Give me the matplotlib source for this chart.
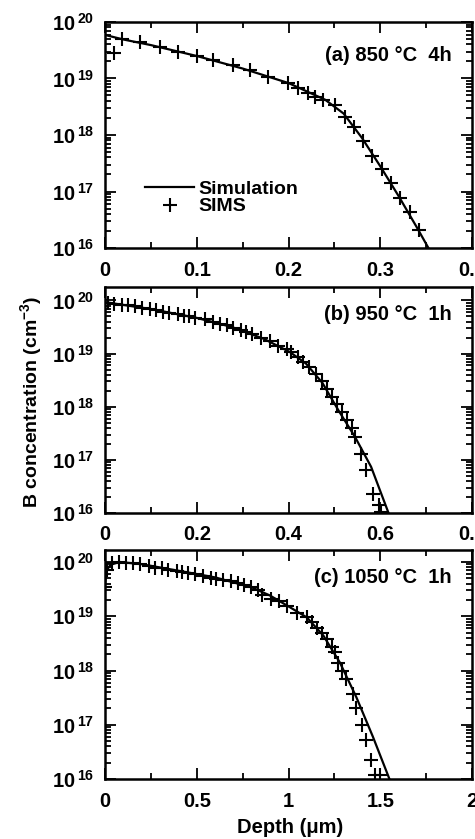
import matplotlib
matplotlib.use('Agg')
import matplotlib.pyplot as plt
from matplotlib.ticker import MultipleLocator, LogLocator, NullFormatter
from matplotlib.lines import Line2D

plt.rcParams['font.family'] = ['Liberation Sans', 'DejaVu Sans']
plt.rcParams['font.weight'] = 'bold'
plt.rcParams['mathtext.fontset'] = 'custom'
plt.rcParams['mathtext.rm'] = 'Liberation Sans:bold'
plt.rcParams['mathtext.bf'] = 'Liberation Sans:bold'

# (a) 850 C 4h
sims_a_x = [0.010, 0.019, 0.038, 0.060, 0.080, 0.100, 0.118, 0.139, 0.158, 0.178,
            0.199, 0.210, 0.221, 0.229, 0.238, 0.251, 0.262, 0.271, 0.281, 0.291,
            0.302, 0.312, 0.322, 0.332, 0.342]
sims_a_c = [2.8e19, 4.9e19, 4.5e19, 3.6e19, 3.0e19, 2.5e19, 2.1e19, 1.7e19, 1.4e19, 1.05e19,
            8.3e18, 6.8e18, 5.5e18, 4.7e18, 4.2e18, 3.4e18, 2.1e18, 1.4e18, 7.9e17, 4.3e17,
            2.5e17, 1.4e17, 7.6e16, 4.3e16, 2.1e16]
sim_a_x = [0, 0.02, 0.05, 0.10, 0.15, 0.20, 0.24, 0.26, 0.28, 0.30, 0.32, 0.34, 0.3525]
sim_a_c = [5.9e19, 4.9e19, 3.9e19, 2.5e19, 1.5e19, 8.3e18, 4.2e18, 2.4e18, 8.9e17,
           2.8e17, 8.3e16, 2.3e16, 1.0e16]

# (b) 950 C 1h
sims_b_x = [0.006, 0.020, 0.036, 0.050, 0.065, 0.080, 0.098, 0.112, 0.126, 0.140,
            0.160, 0.172, 0.183, 0.197, 0.218, 0.236, 0.250, 0.265, 0.279, 0.297,
            0.307, 0.321, 0.339, 0.360, 0.378, 0.396, 0.406, 0.421, 0.431, 0.445,
            0.460, 0.474, 0.484, 0.495, 0.506, 0.516, 0.527, 0.538, 0.545, 0.557,
            0.570, 0.584, 0.598, 0.601]
sims_b_c = [9.1e19, 8.7e19, 8.3e19, 8.1e19, 7.8e19, 7.2e19, 6.9e19, 6.6e19, 6.2e19, 5.9e19,
            5.5e19, 5.2e19, 5.0e19, 4.7e19, 4.4e19, 3.9e19, 3.6e19, 3.4e19, 3.1e19, 2.8e19,
            2.6e19, 2.3e19, 2.0e19, 1.7e19, 1.4e19, 1.2e19, 1.07e19, 8.7e18, 6.9e18, 5.6e18,
            4.2e18, 3.0e18, 2.2e18, 1.5e18, 1.15e18, 7.9e17, 5.6e17, 3.9e17, 2.7e17, 1.3e17,
            6.5e16, 2.3e16, 1.4e16, 1.05e16]
sim_b_x = [0, 0.1, 0.2, 0.275, 0.346, 0.403, 0.438, 0.474, 0.509, 0.545, 0.580, 0.618]
sim_b_c = [9.3e19, 6.9e19, 4.7e19, 3.2e19, 1.9e19, 1.07e19, 6.5e18, 2.8e18, 8.5e17,
           2.7e17, 7.4e16, 1.0e16]

# (c) 1050 C 1h
sims_c_x = [0.002, 0.010, 0.040, 0.076, 0.112, 0.153, 0.192, 0.237, 0.273, 0.309,
            0.345, 0.390, 0.417, 0.453, 0.489, 0.534, 0.579, 0.606, 0.642, 0.687,
            0.723, 0.759, 0.795, 0.831, 0.858, 0.903, 0.948, 0.992, 1.046, 1.100,
            1.127, 1.154, 1.181, 1.208, 1.235, 1.253, 1.271, 1.289, 1.316, 1.352,
            1.370, 1.402, 1.424, 1.451, 1.469, 1.499]
sims_c_c = [3.5e19, 7.1e19, 9.5e19, 9.8e19, 9.5e19, 9.5e19, 9.1e19, 8.5e19, 7.9e19, 7.6e19,
            7.2e19, 6.8e19, 6.5e19, 6.2e19, 5.9e19, 5.5e19, 5.1e19, 4.9e19, 4.7e19, 4.4e19,
            4.1e19, 3.8e19, 3.5e19, 3.0e19, 2.5e19, 2.1e19, 1.9e19, 1.55e19, 1.17e19, 9.5e18,
            7.8e18, 6.2e18, 5.0e18, 3.8e18, 2.7e18, 2.2e18, 1.4e18, 1.0e18, 7.1e17, 3.7e17,
            2.0e17, 9.8e16, 5.2e16, 2.2e16, 1.2e16, 1.2e16]
sim_c_x = [0, 0.01, 0.03, 0.08, 0.2, 0.4, 0.6, 0.8, 0.9, 1.01, 1.10, 1.19, 1.28,
           1.37, 1.46, 1.55]
sim_c_c = [4.0e19, 7.1e19, 8.9e19, 1.0e20, 9.1e19, 6.9e19, 5.2e19, 3.4e19, 2.4e19,
           1.45e19, 9.5e18, 4.4e18, 1.4e18, 3.2e17, 6.0e16, 1.0e16]

panels = [
    # sims x, sims c, sim x, sim c, xmax, major, minor, ytop, label, label y, xticklabels, rect
    (sims_a_x, sims_a_c, sim_a_x, sim_a_c, 0.4, 0.1, 0.05, 1.0e20, '(a) 850 °C  4h', 0.85,
     ['0', '0.1', '0.2', '0.3', '0.4'], [0.2211, 0.7044, 0.7726, 0.2694]),
    (sims_b_x, sims_b_c, sim_b_x, sim_b_c, 0.8, 0.2, 0.1, 1.8e20, '(b) 950 °C  1h', 0.88,
     ['0', '0.2', '0.4', '0.6', '0.8'], [0.2211, 0.3886, 0.7726, 0.2694]),
    (sims_c_x, sims_c_c, sim_c_x, sim_c_c, 2.0, 0.5, 0.25, 1.66e20, '(c) 1050 °C  1h', 0.88,
     ['0', '0.5', '1', '1.5', '2'], [0.2211, 0.0715, 0.7726, 0.2729]),
]

decades = [1e16, 1e17, 1e18, 1e19, 1e20]
dec_labels = [r'$\mathbf{10}^{\,\mathbf{%d}}$' % e for e in [16, 17, 18, 19, 20]]

fs = 14.5
fig = plt.figure(figsize=(4.75, 8.39), dpi=100)

for i, (sx, sc, mx, mc, xmax, major, minor, ytop, label, ly, xtl, rect) in enumerate(panels):
    ax = fig.add_axes(rect)
    ax.plot(mx, mc, '-', color='black', lw=1.6, label='Simulation')
    ax.plot(sx, sc, '+', color='black', ms=9.5, mew=1.5, label='SIMS')
    ax.set_yscale('log')
    ax.set_xlim(0, xmax)
    ax.set_ylim(1e16, ytop)
    ax.set_xticks([major * k for k in range(5)])
    ax.set_xticklabels(xtl)
    ax.xaxis.set_minor_locator(MultipleLocator(minor))
    ax.set_yticks(decades)
    ax.set_yticklabels(dec_labels)
    ax.yaxis.set_minor_locator(LogLocator(base=10, subs=range(2, 10), numticks=20))
    ax.yaxis.set_minor_formatter(NullFormatter())
    ax.tick_params(which='both', direction='in', top=True, right=True, width=1.3)
    ax.tick_params(which='major', length=8)
    ax.tick_params(which='minor', length=4)
    ax.tick_params(axis='x', labelsize=fs, pad=9)
    ax.tick_params(axis='y', labelsize=fs, pad=8)
    for s in ax.spines.values():
        s.set_linewidth(1.8)
    ax.text(0.945, ly, label, transform=ax.transAxes,
            ha='right', va='center', fontsize=fs, fontweight='bold')
    if i == 0:
        handles = [Line2D([], [], color='black', lw=1.6),
                   Line2D([], [], color='black', ls='', marker='+', ms=9.5, mew=1.5)]
        ax.legend(handles, ['Simulation', 'SIMS'], loc='upper left',
                  bbox_to_anchor=(0.11, 0.30), frameon=False, fontsize=14,
                  handlelength=2.5, handletextpad=0.25, labelspacing=0.0,
                  borderpad=0, borderaxespad=0)

fig.text(0.067, 0.521, r'B concentration (cm$^{\mathbf{-3}}$)', rotation=90,
         ha='center', va='center', fontsize=14, fontweight='bold')
fig.text(0.61, 0.0143, 'Depth (μm)', ha='center', va='center',
         fontsize=fs, fontweight='bold')

fig.savefig('out.png', dpi=100)
